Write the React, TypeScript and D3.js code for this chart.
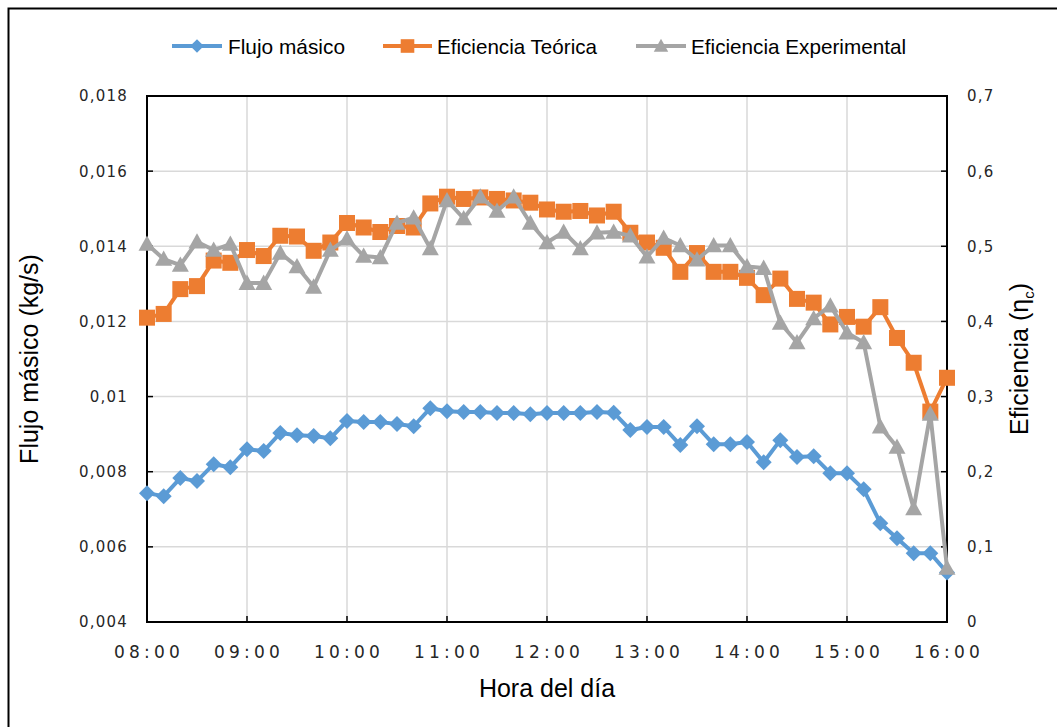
import React from "react";
import * as d3 from "d3";

const times = [
  "08:00","08:10","08:20","08:30","08:40","08:50",
  "09:00","09:10","09:20","09:30","09:40","09:50",
  "10:00","10:10","10:20","10:30","10:40","10:50",
  "11:00","11:10","11:20","11:30","11:40","11:50",
  "12:00","12:10","12:20","12:30","12:40","12:50",
  "13:00","13:10","13:20","13:30","13:40","13:50",
  "14:00","14:10","14:20","14:30","14:40","14:50",
  "15:00","15:10","15:20","15:30","15:40","15:50",
  "16:00",
];

const flujoMasico = [
  0.00743, 0.00735, 0.00783, 0.00775, 0.0082, 0.00812,
  0.0086, 0.00855, 0.00903, 0.00897, 0.00895, 0.00889,
  0.00935, 0.00932, 0.00932, 0.00927, 0.00921, 0.00969,
  0.00961, 0.00959, 0.00959, 0.00956, 0.00956, 0.00953,
  0.00956, 0.00956, 0.00956, 0.00959, 0.00957, 0.00911,
  0.00919, 0.00919, 0.00871, 0.00921, 0.00873, 0.00873,
  0.00879, 0.00825, 0.00884, 0.00839, 0.00841, 0.00796,
  0.00796, 0.00753, 0.00663, 0.00623, 0.00583, 0.00583,
  0.00532,
];

const eficienciaTeorica = [
  0.405, 0.41, 0.443, 0.447, 0.481, 0.478,
  0.495, 0.487, 0.514, 0.513, 0.494, 0.505,
  0.531, 0.525, 0.519, 0.527, 0.525, 0.557,
  0.566, 0.563, 0.565, 0.563, 0.561, 0.558,
  0.549, 0.546, 0.547, 0.541, 0.546, 0.518,
  0.505, 0.498, 0.466, 0.491, 0.466, 0.466,
  0.458, 0.435, 0.457, 0.43, 0.425, 0.396,
  0.406, 0.393, 0.419, 0.378, 0.345, 0.28,
  0.325,
];

const eficienciaExperimental = [
  0.503, 0.483, 0.475, 0.506, 0.495, 0.503,
  0.451, 0.451, 0.491, 0.473, 0.446, 0.495,
  0.51, 0.487, 0.485, 0.531, 0.538, 0.497,
  0.561, 0.537, 0.566, 0.547, 0.566, 0.531,
  0.505, 0.519, 0.497, 0.518, 0.519, 0.514,
  0.486, 0.511, 0.501, 0.482, 0.501, 0.501,
  0.473, 0.471, 0.398, 0.372, 0.404, 0.421,
  0.385, 0.372, 0.26, 0.233, 0.151, 0.277,
  0.072,
];

const xTickLabels = ["08:00","09:00","10:00","11:00","12:00","13:00","14:00","15:00","16:00"];
const leftTickValues = [0.004, 0.006, 0.008, 0.01, 0.012, 0.014, 0.016, 0.018];
const leftTickLabels = ["0,004","0,006","0,008","0,01","0,012","0,014","0,016","0,018"];
const rightTickValues = [0, 0.1, 0.2, 0.3, 0.4, 0.5, 0.6, 0.7];
const rightTickLabels = ["0","0,1","0,2","0,3","0,4","0,5","0,6","0,7"];

const BLUE = "#5B9BD5";
const ORANGE = "#ED7D31";
const GRAY = "#A5A5A5";

const toMin = (t: string) => {
  const [h, m] = t.split(":").map(Number);
  return h * 60 + m;
};

const L = 147, R = 947, T = 96, B = 622;

const x = d3.scaleLinear().domain([toMin("08:00"), toMin("16:00")]).range([L, R]);
const yL = d3.scaleLinear().domain([0.004, 0.018]).range([B, T]);
const yR = d3.scaleLinear().domain([0, 0.7]).range([B, T]);

const diamondPath = (cx: number, cy: number, r: number) =>
  `M${cx},${cy - r}L${cx + r},${cy}L${cx},${cy + r}L${cx - r},${cy}Z`;
const trianglePath = (cx: number, cy: number, r: number) =>
  `M${cx},${cy - r}L${cx + r},${cy + r * 0.8}L${cx - r},${cy + r * 0.8}Z`;

function Marker({ kind, cx, cy, color, s = 1 }: { kind: string; cx: number; cy: number; color: string; s?: number }) {
  if (kind === "diamond") return <path d={diamondPath(cx, cy, 8 * s)} fill={color} />;
  if (kind === "square") return <rect x={cx - 8 * s} y={cy - 8 * s} width={16 * s} height={16 * s} fill={color} />;
  return <path d={trianglePath(cx, cy, 8.5 * s)} fill={color} />;
}

export default function App() {
  const series = [
    { name: "Flujo másico", data: flujoMasico, y: yL, color: BLUE, kind: "diamond" },
    { name: "Eficiencia Teórica", data: eficienciaTeorica, y: yR, color: ORANGE, kind: "square" },
    { name: "Eficiencia Experimental", data: eficienciaExperimental, y: yR, color: GRAY, kind: "triangle" },
  ];
  const legendItems = [
    { x1: 172, x2: 222, tx: 228, tw: 117 },
    { x1: 383, x2: 432, tx: 437, tw: 160 },
    { x1: 636, x2: 686, tx: 691, tw: 215 },
  ];
  const tickFont = "'DejaVu Sans', Verdana, sans-serif";
  const titleFont = "'Liberation Sans', Arial, sans-serif";

  return (
    <svg width={1057} height={727} style={{ position: "absolute", left: 0, top: 0, background: "#fff" }}>
      <rect x={0} y={0} width={1057} height={727} fill="#fff" />
      <rect x={8.5} y={8.5} width={1060} height={740} fill="none" stroke="#000" strokeWidth={2} />

      {/* gridlines */}
      {leftTickValues.map((v) => (
        <line key={"hg" + v} x1={L} x2={R} y1={yL(v)} y2={yL(v)} stroke="#D9D9D9" strokeWidth={1.5} />
      ))}
      {xTickLabels.map((t) => (
        <line key={"vg" + t} x1={x(toMin(t))} x2={x(toMin(t))} y1={T} y2={B} stroke="#D9D9D9" strokeWidth={1.5} />
      ))}

      {/* plot frame */}
      <rect x={L} y={T} width={R - L} height={B - T} fill="none" stroke="#000" strokeWidth={2} />

      {/* ticks */}
      {leftTickValues.map((v) => (
        <line key={"lt" + v} x1={L} x2={L + 6} y1={yL(v)} y2={yL(v)} stroke="#000" strokeWidth={1.5} />
      ))}
      {rightTickValues.map((v) => (
        <line key={"rt" + v} x1={R - 6} x2={R} y1={yR(v)} y2={yR(v)} stroke="#000" strokeWidth={1.5} />
      ))}
      {xTickLabels.map((t) => (
        <line key={"xt" + t} x1={x(toMin(t))} x2={x(toMin(t))} y1={B} y2={B - 6} stroke="#000" strokeWidth={1.5} />
      ))}

      {/* series */}
      {series.map((s) => {
        const line = d3
          .line<number>()
          .x((_, i) => x(toMin(times[i])))
          .y((d) => s.y(d));
        return (
          <g key={s.name}>
            <path d={line(s.data) || ""} fill="none" stroke={s.color} strokeWidth={4} strokeLinejoin="round" />
            {s.data.map((d, i) => (
              <Marker key={i} kind={s.kind} cx={x(toMin(times[i]))} cy={s.y(d)} color={s.color} />
            ))}
          </g>
        );
      })}

      {/* tick labels */}
      {leftTickValues.map((v, i) => (
        <text key={"ll" + v} x={128} y={yL(v)} dy="0.36em" textAnchor="end" fontFamily={tickFont} fontSize={15} letterSpacing={1.2} fill="#262626">
          {leftTickLabels[i]}
        </text>
      ))}
      {rightTickValues.map((v, i) => (
        <text key={"rl" + v} x={967} y={yR(v)} dy="0.36em" textAnchor="start" fontFamily={tickFont} fontSize={15} letterSpacing={1.2} fill="#262626">
          {rightTickLabels[i]}
        </text>
      ))}
      {xTickLabels.map((t) => (
        <text key={"xl" + t} x={x(toMin(t)) + 2} y={658} textAnchor="middle" fontFamily={tickFont} fontSize={17} letterSpacing={4.2} fill="#262626">
          {t}
        </text>
      ))}

      {/* axis titles */}
      <text x={547} y={697} textAnchor="middle" fontFamily={titleFont} fontSize={25} fill="#000">
        Hora del día
      </text>
      <text transform={`translate(38,${(T + B) / 2}) rotate(-90)`} textAnchor="middle" fontFamily={titleFont} fontSize={25} fill="#000">
        Flujo másico (kg/s)
      </text>
      <text transform={`translate(1028,${(T + B) / 2}) rotate(-90)`} textAnchor="middle" fontFamily={titleFont} fontSize={25} fill="#000">
        Eficiencia (η<tspan fontSize={15} dy={6}>c</tspan><tspan dy={-6}>)</tspan>
      </text>

      {/* legend */}
      {series.map((s, i) => {
        const it = legendItems[i];
        return (
          <g key={"lg" + s.name}>
            <line x1={it.x1} x2={it.x2} y1={46} y2={46} stroke={s.color} strokeWidth={4} />
            <Marker kind={s.kind} cx={(it.x1 + it.x2) / 2} cy={46} color={s.color} s={0.85} />
            <text x={it.tx} y={54} fontFamily="'Liberation Sans Narrow', 'Liberation Sans', Arial, sans-serif" fontSize={21} textLength={it.tw} lengthAdjust="spacingAndGlyphs" fill="#000">
              {s.name}
            </text>
          </g>
        );
      })}
    </svg>
  );
}
